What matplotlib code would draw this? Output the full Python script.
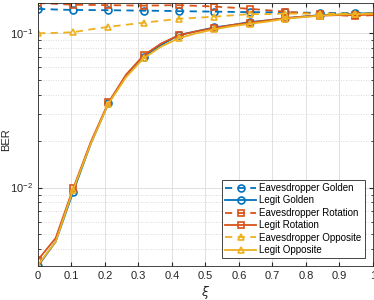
"""
BER vs xi for legit / eavesdropper users, three key schemes
"""
import matplotlib
matplotlib.use('Agg')
import matplotlib.pyplot as plt
import numpy as np
from matplotlib.ticker import LogLocator, NullFormatter

plt.rcParams['font.family'] = ['Liberation Sans', 'DejaVu Sans']

xi = np.linspace(0, 1, 20)

eve_golden = [0.1437, 0.1425, 0.1415, 0.1413, 0.141, 0.1405, 0.140, 0.1397, 0.139, 0.1385,
              0.138, 0.1375, 0.137, 0.1368, 0.1365, 0.136, 0.1355, 0.1352, 0.135, 0.135]
legit_golden = [3.1e-3, 4.45e-3, 9.4e-3, 0.0193, 0.0352, 0.053, 0.0705, 0.084, 0.0975, 0.103,
                0.109, 0.113, 0.118, 0.121, 0.125, 0.128, 0.131, 0.132, 0.134, 0.135]
eve_rotation = [0.157, 0.155, 0.153, 0.1525, 0.152, 0.1515, 0.151, 0.1515, 0.152, 0.1505,
                0.149, 0.1465, 0.144, 0.141, 0.138, 0.1355, 0.133, 0.131, 0.129, 0.131]
legit_rotation = [3.4e-3, 4.7e-3, 9.9e-3, 0.0198, 0.0356, 0.054, 0.072, 0.086, 0.097, 0.103,
                  0.108, 0.113, 0.117, 0.121, 0.125, 0.128, 0.130, 0.131, 0.131, 0.132]
eve_opposite = [0.100, 0.1005, 0.1015, 0.106, 0.110, 0.1135, 0.117, 0.1205, 0.124, 0.126,
                0.128, 0.1305, 0.133, 0.133, 0.134, 0.134, 0.134, 0.134, 0.134, 0.134]
legit_opposite = [3.15e-3, 4.45e-3, 9.7e-3, 0.0193, 0.035, 0.052, 0.069, 0.082, 0.093, 0.100,
                  0.106, 0.111, 0.115, 0.119, 0.124, 0.127, 0.130, 0.132, 0.133, 0.134]

BLUE = '#0072BD'
RED = '#D95319'
YEL = '#EDB120'

fig = plt.figure(figsize=(3.74, 3.0), dpi=100)
ax = fig.add_axes([0.1016, 0.1133, 0.8954, 0.8767])

series = [
    (eve_golden, BLUE, '--', 'o', 'Eavesdropper Golden'),
    (legit_golden, BLUE, '-', 'o', 'Legit Golden'),
    (eve_rotation, RED, '--', 's', 'Eavesdropper Rotation'),
    (legit_rotation, RED, '-', 's', 'Legit Rotation'),
    (eve_opposite, YEL, '--', '^', 'Eavesdropper Opposite'),
    (legit_opposite, YEL, '-', '^', 'Legit Opposite'),
]
for vals, col, ls, mk, lab in series:
    ax.semilogy(xi, vals, color=col, ls=ls, marker=mk, markevery=2, ms=5,
                mfc='none', mew=1.2, lw=1.3, label=lab, dashes=(4, 3) if ls == '--' else (None, None))

allv = np.concatenate([np.array(s[0]) for s in series])
ax.set_xlim(0, 1)
ax.set_ylim(allv.min(), allv.max())

ax.set_xticks(np.arange(0, 1.01, 0.1))
ax.set_xticklabels(['0', '0.1', '0.2', '0.3', '0.4', '0.5', '0.6', '0.7', '0.8', '0.9', '1'])
ax.yaxis.set_major_locator(LogLocator(base=10))
ax.yaxis.set_minor_locator(LogLocator(base=10, subs=np.arange(2, 10)))
ax.yaxis.set_minor_formatter(NullFormatter())

ax.grid(True, which='major', color='#dcdcdc', lw=0.6)
ax.grid(True, which='minor', axis='y', color='#cfcfcf', lw=0.6, ls=(0, (1, 2)))
ax.set_axisbelow(True)

ax.tick_params(direction='in', which='both', labelsize=8, colors='#262626', top=True, right=True)
ax.tick_params(which='major', length=3)
ax.tick_params(which='minor', length=1.8)
for sp in ax.spines.values():
    sp.set_color('#262626')
    sp.set_linewidth(0.6)

ax.set_xlabel(r'$\xi$', fontsize=9, color='#262626', labelpad=2)
ax.set_ylabel('BER', fontsize=8, color='#262626')
ax.yaxis.set_label_coords(-0.08, 0.48)

leg = ax.legend(loc='lower right', bbox_to_anchor=(0.975, 0.03), fontsize=7, handlelength=3.2,
                borderpad=0.3, labelspacing=0.25, handletextpad=0.3, borderaxespad=0,
                fancybox=False, edgecolor='#262626', framealpha=1)
leg.get_frame().set_linewidth(0.6)

fig.savefig('out.png', dpi=100)
